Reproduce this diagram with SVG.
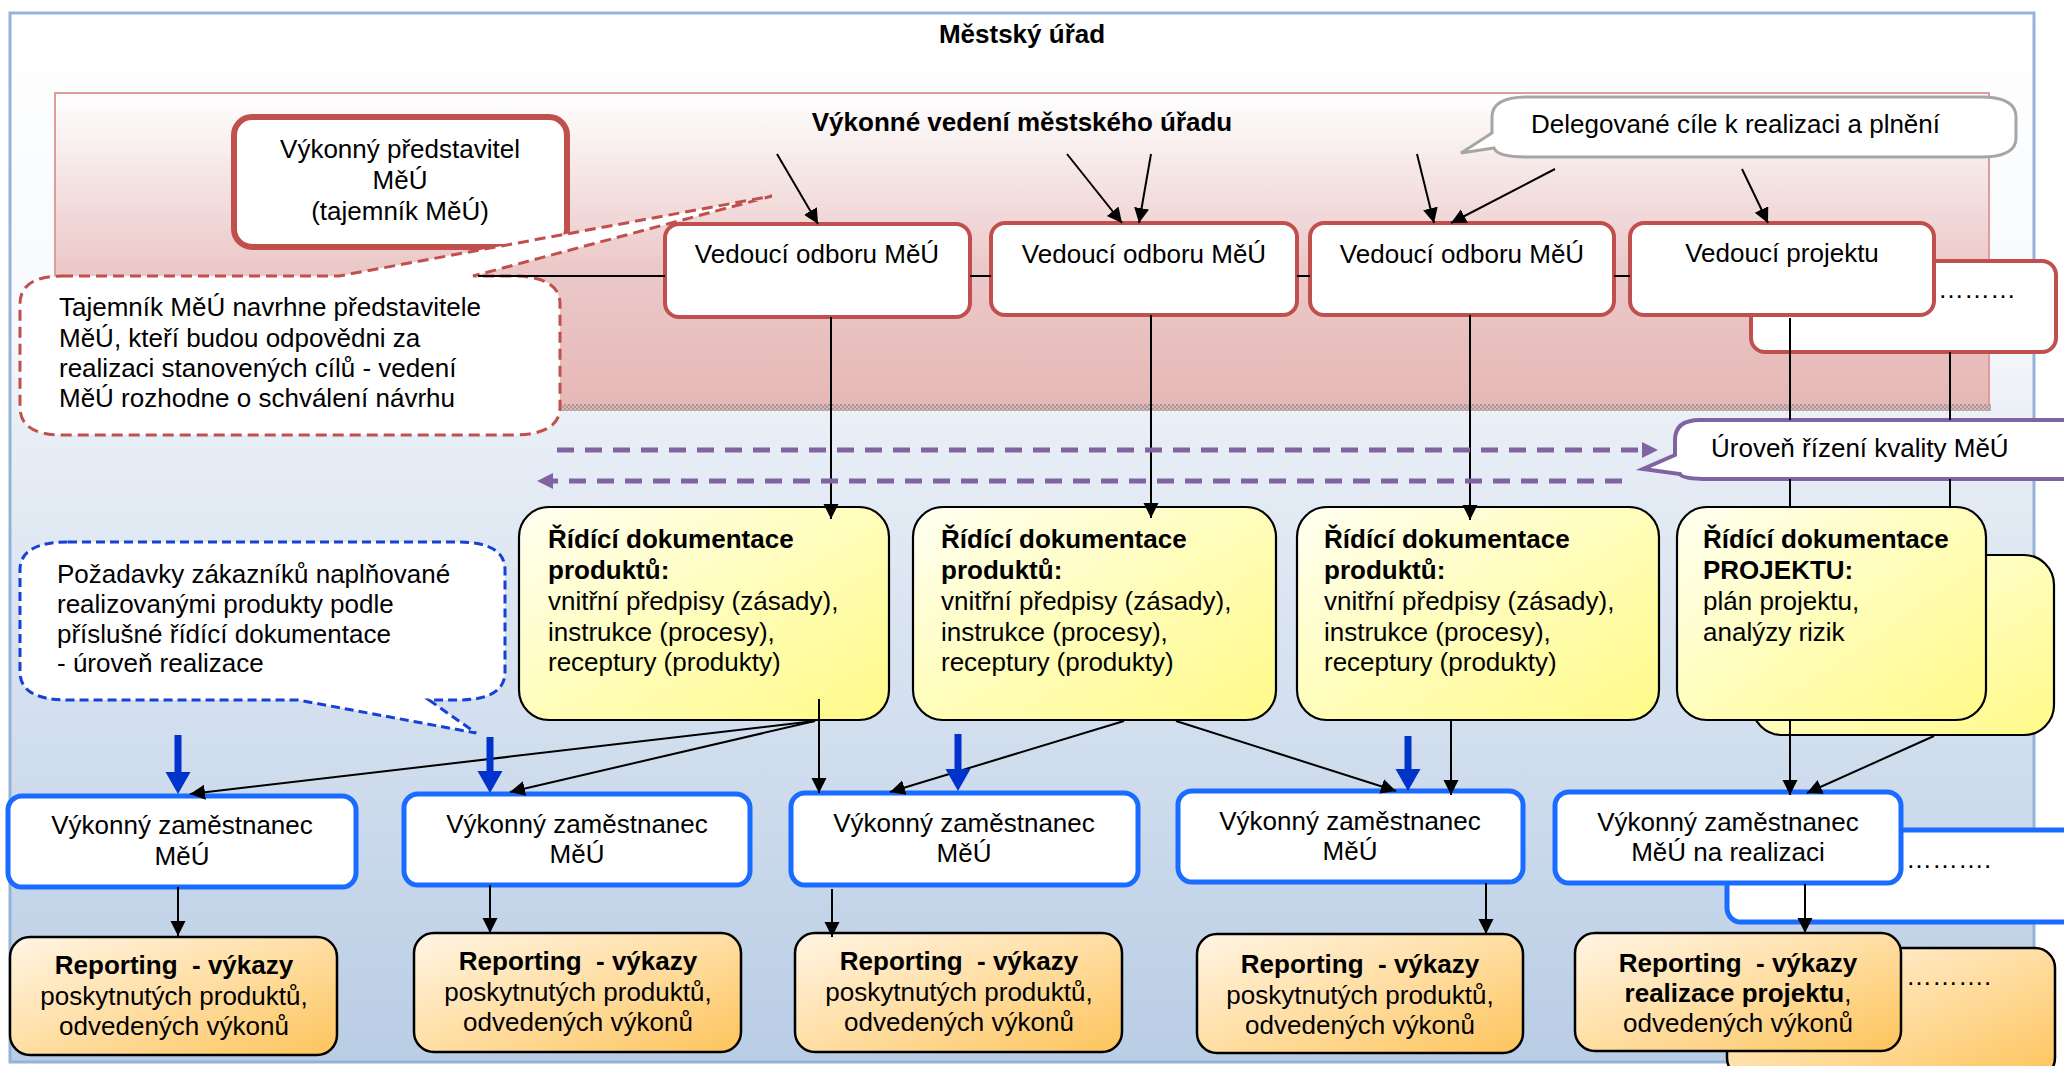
<svg xmlns="http://www.w3.org/2000/svg" width="2064" height="1066" viewBox="0 0 2064 1066">
  <defs>
    <style>
      .t { font-family: "Liberation Sans", Arial, sans-serif; font-size: 26px; fill: #000; }
      .b { font-weight: bold; }
      .c { text-anchor: middle; }
      .lead { fill: #fff; stroke: #c0504d; stroke-width: 4; }
      .yel { fill: url(#yellowGrad); stroke: #000; stroke-width: 2.2; }
      .emp { fill: #fff; stroke: #1a6bff; stroke-width: 5; }
      .rep { fill: url(#orangeGrad); stroke: #000; stroke-width: 2.5; }
      .ln { fill: none; stroke: #000; stroke-width: 2; }
      .ar { fill: none; stroke: #000; stroke-width: 2; marker-end: url(#head); }
      .pur { fill: none; stroke: #8064a2; stroke-width: 5; stroke-dasharray: 17 11; marker-end: url(#purHead); }
      .blu { fill: none; stroke: #0033cc; stroke-width: 7; marker-end: url(#bluHead); }
    </style>
    <linearGradient id="bgGrad" x1="0" y1="0" x2="0" y2="1">
      <stop offset="0" stop-color="#ffffff"/>
      <stop offset="0.3" stop-color="#f7f9fc"/>
      <stop offset="0.4" stop-color="#e8eef6"/>
      <stop offset="1" stop-color="#b9cde5"/>
    </linearGradient>
    <linearGradient id="pinkGrad" x1="0" y1="0" x2="0" y2="1">
      <stop offset="0" stop-color="#ffffff"/>
      <stop offset="0.55" stop-color="#ecc9c9"/>
      <stop offset="1" stop-color="#e6b8b7"/>
    </linearGradient>
    <linearGradient id="yellowGrad" x1="0" y1="0" x2="1" y2="1">
      <stop offset="0" stop-color="#fffff2"/>
      <stop offset="0.5" stop-color="#fffdba"/>
      <stop offset="1" stop-color="#fffa88"/>
    </linearGradient>
    <linearGradient id="orangeGrad" x1="0" y1="0" x2="1" y2="1">
      <stop offset="0" stop-color="#fff5e5"/>
      <stop offset="0.5" stop-color="#ffdea3"/>
      <stop offset="1" stop-color="#fdc45c"/>
    </linearGradient>
    <pattern id="hatch" width="4" height="4" patternUnits="userSpaceOnUse">
      <rect width="4" height="4" fill="#dcb8b7"/>
      <rect width="2" height="2" fill="#a99595"/>
      <rect x="2" y="2" width="2" height="2" fill="#a99595"/>
    </pattern>
    <marker id="head" markerUnits="userSpaceOnUse" markerWidth="16" markerHeight="16" refX="15" refY="7.5" orient="auto">
      <path d="M0,0 L15,7.5 L0,15 Z" fill="#000"/>
    </marker>
    <marker id="purHead" markerUnits="userSpaceOnUse" markerWidth="18" markerHeight="18" refX="0" refY="8" orient="auto">
      <path d="M0,0 L16,8 L0,16 Z" fill="#8064a2"/>
    </marker>
    <marker id="bluHead" markerUnits="userSpaceOnUse" markerWidth="24" markerHeight="26" refX="0" refY="12.5" orient="auto">
      <path d="M0,0 L22,12.5 L0,25 Z" fill="#0033cc"/>
    </marker>
  </defs>

  <!-- city office frame -->
  <g id="frame">
    <rect x="10" y="13" width="2024" height="1049" fill="url(#bgGrad)" stroke="#95b3d7" stroke-width="3"/>
    <text class="t b c" x="1022" y="43" font-size="25">Městský úřad</text>
  </g>

  <!-- executive management band -->
  <g id="management">
    <rect x="55" y="93" width="1934" height="312" fill="url(#pinkGrad)" stroke="#dc9e9d" stroke-width="2"/>
    <rect x="56" y="404" width="1935" height="7" fill="url(#hatch)"/>
    <text class="t b c" x="1022" y="131">Výkonné vedení městského úřadu</text>
  </g>

  <g id="secretary">
    <rect x="234" y="117" width="333" height="130" rx="18" fill="#fff" stroke="#c0504d" stroke-width="6"/>
    <text class="t c" x="400" y="158">Výkonný představitel</text>
    <text class="t c" x="400" y="189">MěÚ</text>
    <text class="t c" x="400" y="220">(tajemník MěÚ)</text>
  </g>

  <g id="note-secretary">
    <path d="M62,276 L339,276 L772,196 L473,276 L512,276 Q560,276 560,304 L560,407 Q560,435 512,435 L62,435 Q20,435 20,407 L20,304 Q20,276 62,276 Z" fill="#fff" stroke="#c0504d" stroke-width="3" stroke-dasharray="11 6"/>
    <text class="t" x="59" y="316">Tajemník MěÚ navrhne představitele</text>
    <text class="t" x="59" y="347">MěÚ, kteří budou odpovědni za</text>
    <text class="t" x="59" y="377">realizaci stanovených cílů - vedení</text>
    <text class="t" x="59" y="407">MěÚ rozhodne o schválení návrhu</text>
  </g>

  <g id="note-goals">
    <path d="M1527,97 L1981,97 Q2016,97 2016,117 L2016,138 Q2016,157 1981,157 L1527,157 Q1497,157 1494,148 L1461,153 L1492,133 L1492,117 Q1492,97 1527,97 Z" fill="#fff" stroke="#a6a6a6" stroke-width="3"/>
    <text class="t" x="1531" y="133">Delegované cíle k realizaci a plnění</text>
  </g>

  <!-- heads of departments -->
  <g id="lead-more">
    <rect x="1751" y="261" width="305" height="91" rx="14" class="lead"/>
    <text class="t" x="1938" y="298">………</text>
  </g>
  <g id="lead-1">
    <rect x="665" y="224" width="305" height="93" rx="14" class="lead"/>
    <text class="t c" x="817" y="263">Vedoucí odboru MěÚ</text>
  </g>
  <g id="lead-2">
    <rect x="991" y="223" width="306" height="92" rx="14" class="lead"/>
    <text class="t c" x="1144" y="263">Vedoucí odboru MěÚ</text>
  </g>
  <g id="lead-3">
    <rect x="1310" y="223" width="304" height="92" rx="14" class="lead"/>
    <text class="t c" x="1462" y="263">Vedoucí odboru MěÚ</text>
  </g>
  <g id="lead-project">
    <rect x="1630" y="223" width="304" height="92" rx="14" class="lead"/>
    <text class="t c" x="1782" y="262">Vedoucí projektu</text>
  </g>

  <g id="note-quality">
    <path d="M1700,420 L2100,420 L2100,479 L1709,479 Q1682,479 1680,474 L1643,469 L1675,455 L1675,440 Q1675,420 1700,420 Z" fill="#fff" stroke="#8064a2" stroke-width="4"/>
    <text class="t" x="1711" y="457">Úroveň řízení kvality MěÚ</text>
  </g>

  <!-- governing documentation -->
  <g id="docs-more">
    <rect x="1752" y="555" width="302" height="180" rx="30" class="yel"/>
  </g>
  <g id="docs-1">
    <rect x="519" y="507" width="370" height="213" rx="30" class="yel"/>
    <text class="t b" x="548" y="548">Řídící dokumentace</text>
    <text class="t b" x="548" y="579">produktů:</text>
    <text class="t" x="548" y="610">vnitřní předpisy (zásady),</text>
    <text class="t" x="548" y="641">instrukce (procesy),</text>
    <text class="t" x="548" y="671">receptury (produkty)</text>
  </g>
  <g id="docs-2">
    <rect x="913" y="507" width="363" height="213" rx="30" class="yel"/>
    <text class="t b" x="941" y="548">Řídící dokumentace</text>
    <text class="t b" x="941" y="579">produktů:</text>
    <text class="t" x="941" y="610">vnitřní předpisy (zásady),</text>
    <text class="t" x="941" y="641">instrukce (procesy),</text>
    <text class="t" x="941" y="671">receptury (produkty)</text>
  </g>
  <g id="docs-3">
    <rect x="1297" y="507" width="362" height="213" rx="30" class="yel"/>
    <text class="t b" x="1324" y="548">Řídící dokumentace</text>
    <text class="t b" x="1324" y="579">produktů:</text>
    <text class="t" x="1324" y="610">vnitřní předpisy (zásady),</text>
    <text class="t" x="1324" y="641">instrukce (procesy),</text>
    <text class="t" x="1324" y="671">receptury (produkty)</text>
  </g>
  <g id="docs-project">
    <rect x="1677" y="507" width="309" height="213" rx="30" class="yel"/>
    <text class="t b" x="1703" y="548">Řídící dokumentace</text>
    <text class="t b" x="1703" y="579">PROJEKTU:</text>
    <text class="t" x="1703" y="610">plán projektu,</text>
    <text class="t" x="1703" y="641">analýzy rizik</text>
  </g>

  <g id="note-customers">
    <path d="M68,542 L458,542 Q505,542 505,570 L505,672 Q505,700 458,700 L429,700 L476,733 L298,700 L68,700 Q20,700 20,672 L20,570 Q20,542 68,542 Z" fill="#fff" stroke="#1740d6" stroke-width="3" stroke-dasharray="9 5"/>
    <text class="t" x="57" y="583">Požadavky zákazníků naplňované</text>
    <text class="t" x="57" y="613">realizovanými produkty podle</text>
    <text class="t" x="57" y="643">příslušné řídící dokumentace</text>
    <text class="t" x="57" y="672">- úroveň realizace</text>
  </g>

  <!-- executive employees -->
  <g id="staff-more">
    <rect x="1727" y="830" width="360" height="92" rx="14" class="emp"/>
    <text class="t" x="1906" y="868">……….</text>
  </g>
  <g id="staff-1">
    <rect x="8" y="796" width="348" height="91" rx="14" class="emp"/>
    <text class="t c" x="182" y="834">Výkonný zaměstnanec</text>
    <text class="t c" x="182" y="865">MěÚ</text>
  </g>
  <g id="staff-2">
    <rect x="404" y="794" width="346" height="91" rx="14" class="emp"/>
    <text class="t c" x="577" y="833">Výkonný zaměstnanec</text>
    <text class="t c" x="577" y="863">MěÚ</text>
  </g>
  <g id="staff-3">
    <rect x="791" y="793" width="347" height="92" rx="14" class="emp"/>
    <text class="t c" x="964" y="832">Výkonný zaměstnanec</text>
    <text class="t c" x="964" y="862">MěÚ</text>
  </g>
  <g id="staff-4">
    <rect x="1178" y="791" width="345" height="91" rx="14" class="emp"/>
    <text class="t c" x="1350" y="830">Výkonný zaměstnanec</text>
    <text class="t c" x="1350" y="860">MěÚ</text>
  </g>
  <g id="staff-project">
    <rect x="1555" y="792" width="346" height="91" rx="14" class="emp"/>
    <text class="t c" x="1728" y="831">Výkonný zaměstnanec</text>
    <text class="t c" x="1728" y="861">MěÚ na realizaci</text>
  </g>

  <!-- reporting -->
  <g id="report-more">
    <rect x="1727" y="948" width="328" height="130" rx="20" class="rep"/>
    <text class="t" x="1906" y="985">……….</text>
  </g>
  <g id="report-1">
    <rect x="10" y="937" width="327" height="118" rx="20" class="rep"/>
    <text class="t b c" x="174" y="974" xml:space="preserve">Reporting  - výkazy</text>
    <text class="t c" x="174" y="1005">poskytnutých produktů,</text>
    <text class="t c" x="174" y="1035">odvedených výkonů</text>
  </g>
  <g id="report-2">
    <rect x="414" y="933" width="327" height="119" rx="20" class="rep"/>
    <text class="t b c" x="578" y="970" xml:space="preserve">Reporting  - výkazy</text>
    <text class="t c" x="578" y="1001">poskytnutých produktů,</text>
    <text class="t c" x="578" y="1031">odvedených výkonů</text>
  </g>
  <g id="report-3">
    <rect x="795" y="933" width="327" height="119" rx="20" class="rep"/>
    <text class="t b c" x="959" y="970" xml:space="preserve">Reporting  - výkazy</text>
    <text class="t c" x="959" y="1001">poskytnutých produktů,</text>
    <text class="t c" x="959" y="1031">odvedených výkonů</text>
  </g>
  <g id="report-4">
    <rect x="1197" y="934" width="326" height="119" rx="20" class="rep"/>
    <text class="t b c" x="1360" y="973" xml:space="preserve">Reporting  - výkazy</text>
    <text class="t c" x="1360" y="1004">poskytnutých produktů,</text>
    <text class="t c" x="1360" y="1034">odvedených výkonů</text>
  </g>
  <g id="report-project">
    <rect x="1575" y="933" width="326" height="118" rx="20" class="rep"/>
    <text class="t b c" x="1738" y="972" xml:space="preserve">Reporting  - výkazy</text>
    <text class="t c" x="1738" y="1002"><tspan class="b">realizace projektu</tspan>,</text>
    <text class="t c" x="1738" y="1032">odvedených výkonů</text>
  </g>

  <!-- connectors -->
  <g id="connectors">
    <!-- goals delegated to the heads -->
    <line class="ar" x1="777" y1="154" x2="818" y2="224"/>
    <line class="ar" x1="1067" y1="154" x2="1122" y2="223"/>
    <line class="ar" x1="1151" y1="154" x2="1139" y2="223"/>
    <line class="ar" x1="1417" y1="154" x2="1434" y2="223"/>
    <line class="ar" x1="1555" y1="169" x2="1451" y2="223"/>
    <line class="ar" x1="1742" y1="169" x2="1768" y2="223"/>

    <!-- link between heads -->
    <path class="ln" d="M478,276 H665 M970,276 H991 M1297,276 H1310 M1614,276 H1630"/>

    <!-- heads to documentation -->
    <line class="ar" x1="831" y1="317" x2="831" y2="519"/>
    <line class="ar" x1="1151" y1="315" x2="1151" y2="518"/>
    <line class="ar" x1="1470" y1="315" x2="1470" y2="520"/>
    <path class="ln" d="M1790,318 V420 M1790,479 V507 M1950,352 V420 M1950,479 V507"/>

    <!-- quality level -->
    <line class="pur" x1="557" y1="450" x2="1642" y2="450"/>
    <line class="pur" x1="1622" y1="481" x2="553" y2="481"/>

    <!-- documentation to employees -->
    <line class="ar" x1="815" y1="721" x2="190" y2="794"/>
    <line class="ar" x1="815" y1="721" x2="510" y2="792"/>
    <line class="ar" x1="819" y1="699" x2="819" y2="793"/>
    <line class="ar" x1="1124" y1="721" x2="890" y2="792"/>
    <line class="ar" x1="1176" y1="721" x2="1396" y2="791"/>
    <line class="ar" x1="1451" y1="720" x2="1451" y2="795"/>
    <line class="ar" x1="1790" y1="720" x2="1790" y2="795"/>
    <line class="ar" x1="1934" y1="736" x2="1807" y2="793"/>

    <!-- customer requirements -->
    <line class="blu" x1="178" y1="735" x2="178" y2="772"/>
    <line class="blu" x1="490" y1="737" x2="490" y2="771"/>
    <line class="blu" x1="958" y1="734" x2="958" y2="769"/>
    <line class="blu" x1="1408" y1="736" x2="1408" y2="769"/>

    <!-- employees to reporting -->
    <line class="ar" x1="178" y1="887" x2="178" y2="936"/>
    <line class="ar" x1="490" y1="885" x2="490" y2="933"/>
    <line class="ar" x1="832" y1="889" x2="832" y2="937"/>
    <line class="ar" x1="1486" y1="883" x2="1486" y2="934"/>
    <line class="ar" x1="1805" y1="884" x2="1805" y2="933"/>
  </g>
</svg>
